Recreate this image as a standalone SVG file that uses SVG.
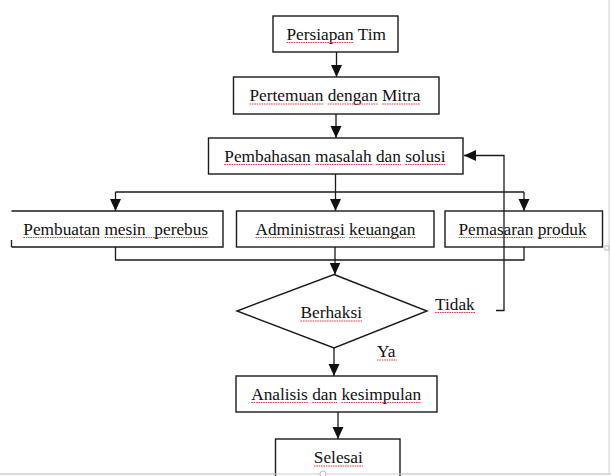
<svg xmlns="http://www.w3.org/2000/svg" width="611" height="476" viewBox="0 0 611 476">
<defs>
<style>
.box{fill:#fff;stroke:#1a1a1a;stroke-width:1.4}
.ln{fill:none;stroke:#1a1a1a;stroke-width:1.3}
.t{font-family:"Liberation Serif","Times New Roman",serif;font-size:17.3px;fill:#111}
.sq{fill:none;stroke:#e23a44;stroke-width:1.1;stroke-dasharray:1.6 0.8}
.sqb{fill:none;stroke:#5a6ee0;stroke-width:1.1;stroke-dasharray:1.6 0.8}
.frame{fill:none;stroke:#cfcfcf;stroke-width:1}
</style>
<marker id="ah" markerUnits="userSpaceOnUse" markerWidth="12" markerHeight="12" refX="12" refY="5.5" orient="auto">
<path d="M0,0 L12,5.5 L0,11 z" fill="#111"/>
</marker>
</defs>
<rect width="611" height="476" fill="#fff"/>
<g id="page-frame">
<line class="frame" x1="609" y1="0" x2="609" y2="474"/>
<line class="frame" x1="0" y1="474" x2="611" y2="474"/>
<rect x="605" y="246" width="4" height="4" fill="#fff" stroke="#aaa" stroke-width="0.8"/>
<circle cx="323" cy="474" r="3" fill="#fff" stroke="#aaa" stroke-width="0.8"/>
</g>
<g id="connectors">
<line class="ln" x1="336.5" y1="52" x2="336.5" y2="77" marker-end="url(#ah)"/>
<line class="ln" x1="336" y1="114" x2="336" y2="138" marker-end="url(#ah)"/>
<line class="ln" x1="335.5" y1="174" x2="335.5" y2="192"/>
<line class="ln" x1="115.5" y1="192" x2="524" y2="192"/>
<line class="ln" x1="115.5" y1="192" x2="115.5" y2="211" marker-end="url(#ah)"/>
<line class="ln" x1="335.5" y1="192" x2="335.5" y2="211" marker-end="url(#ah)"/>
<line class="ln" x1="524" y1="192" x2="524" y2="211" marker-end="url(#ah)"/>
<path class="ln" d="M115.5,247 V260 H524 V247"/>
<line class="ln" x1="335" y1="247" x2="335" y2="274.5" marker-end="url(#ah)"/>
<line class="ln" x1="334" y1="348" x2="334" y2="376" marker-end="url(#ah)"/>
<line class="ln" x1="338" y1="412" x2="338" y2="439" marker-end="url(#ah)"/>
<path class="ln" d="M496,310.5 H504 V155.5 H464" marker-end="url(#ah)"/>
<text class="t" x="435" y="309.5">Tidak</text>
<line class="sq" x1="435" y1="312.5" x2="475.4" y2="312.5"/>
<text class="t" x="377" y="357">Ya</text>
<line class="sq" x1="377" y1="360" x2="397.2" y2="360"/>
</g>
<g id="n-persiapan">
<rect class="box" x="273" y="16" width="125" height="36"/>
<text class="t" x="286.5" y="39.5">Persiapan Tim</text>
<line class="sq" x1="286.5" y1="42.5" x2="353.8" y2="42.5"/>
</g>
<g id="n-pertemuan">
<rect class="box" x="233.5" y="77" width="205.5" height="37"/>
<text class="t" x="249.5" y="101">Pertemuan dengan Mitra</text>
<path class="sq" d="M249.5,104 H323.5 M327.8,104 H377.8 M382.1,104 H420.5"/>
</g>
<g id="n-pembahasan">
<rect class="box" x="208.5" y="138" width="254.5" height="36"/>
<text class="t" x="224.3" y="161.5">Pembahasan masalah dan solusi</text>
<path class="sq" d="M224.3,164.5 H310.8 M315.1,164.5 H371.8 M376.1,164.5 H401.1 M405.4,164.5 H445.8"/>
</g>
<g id="n-pembuatan">
<path class="box" d="M11.5,211 H223 V247 H11.5" fill="none"/>
<line class="ln" x1="11.5" y1="240" x2="11.5" y2="247"/>
<text class="t" x="23.3" y="234.5" xml:space="preserve">Pembuatan mesin  perebus</text>
<path class="sq" d="M23.3,237.5 H100.2 M104.5,237.5 H145.8 M154.5,237.5 H208.3"/>
<line class="sqb" x1="145.8" y1="237.5" x2="154.5" y2="237.5"/>
</g>
<g id="n-administrasi">
<rect class="box" x="236.5" y="211" width="197.5" height="36"/>
<text class="t" x="255.5" y="234.5">Administrasi keuangan</text>
<path class="sq" d="M255.5,237.5 H344.9 M349.2,237.5 H415.5"/>
</g>
<g id="n-pemasaran">
<rect class="box" x="445" y="211" width="157.5" height="36"/>
<text class="t" x="458.5" y="234.5">Pemasaran produk</text>
<path class="sq" d="M458.5,237.5 H533.4 M537.7,237.5 H586.7"/>
</g>
<line class="ln" x1="504" y1="211" x2="504" y2="247"/>
<g id="n-berhaksi">
<polygon class="box" points="334,274.5 427,311 334,348 237,311"/>
<text class="t" x="300.5" y="318">Berhaksi</text>
<line class="sq" x1="300.5" y1="321" x2="362" y2="321"/>
</g>
<g id="n-analisis">
<rect class="box" x="236" y="376" width="201" height="36"/>
<text class="t" x="251.2" y="399.5">Analisis dan kesimpulan</text>
<path class="sq" d="M251.2,402.5 H307.9 M312.2,402.5 H337.2 M341.5,402.5 H421.3"/>
</g>
<g id="n-selesai">
<rect class="box" x="275.5" y="439" width="124.5" height="60"/>
<text class="t" x="313.8" y="463">Selesai</text>
<line class="sq" x1="313.8" y1="466" x2="362.8" y2="466"/>
</g>
<line class="frame" x1="0" y1="474" x2="611" y2="474"/>
<circle cx="323" cy="474" r="3" fill="#fff" stroke="#aaa" stroke-width="0.8"/>
</svg>
